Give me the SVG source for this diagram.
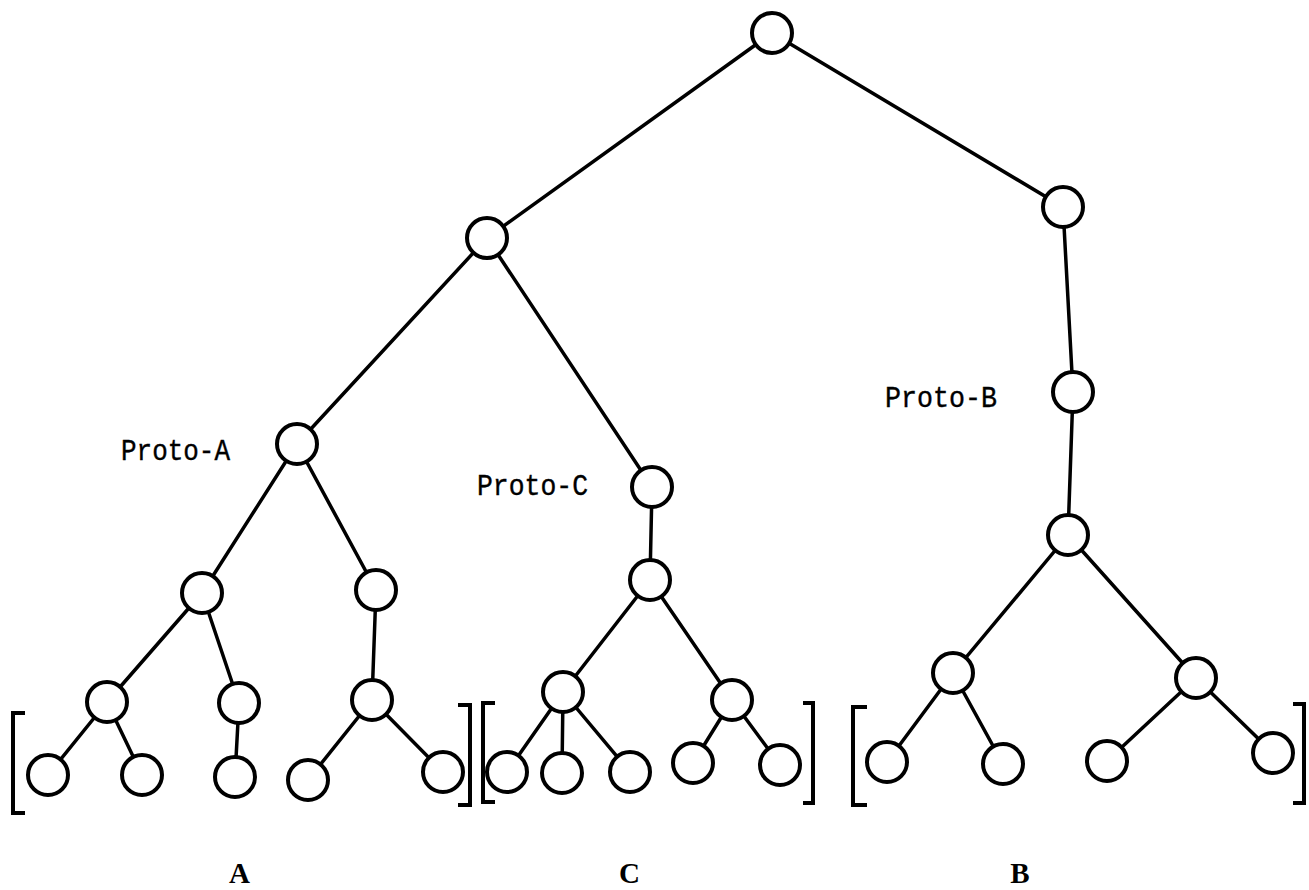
<svg xmlns="http://www.w3.org/2000/svg" width="1309" height="890" viewBox="0 0 1309 890">
  <style>
    .edge { stroke: #000; stroke-width: 3.5; stroke-linecap: round; fill: none; }
    .node circle { fill: #fff; stroke: #000; stroke-width: 4; }
    .bracket { stroke: #000; stroke-width: 4; fill: none; }
    .label { font-family: "Liberation Mono", "DejaVu Sans Mono", monospace; font-size: 30px; fill: #000; stroke: #000; stroke-width: 0.4; }
    .group { font-family: "Liberation Serif", serif; font-size: 29px; font-weight: bold; fill: #000; }
  </style>

  <!-- connectors -->
  <g id="connectors" class="edge">
    <line x1="772" y1="33" x2="487" y2="238"/>
    <line x1="772" y1="33" x2="1063" y2="207"/>
    <line x1="487" y1="238" x2="297" y2="444"/>
    <line x1="487" y1="238" x2="652" y2="487"/>
    <line x1="1063" y1="207" x2="1073" y2="392"/>
    <line x1="1073" y1="392" x2="1068" y2="535"/>
    <line x1="1068" y1="535" x2="953" y2="673"/>
    <line x1="1068" y1="535" x2="1196" y2="678"/>
    <line x1="953" y1="673" x2="887" y2="762"/>
    <line x1="953" y1="673" x2="1003" y2="764"/>
    <line x1="1196" y1="678" x2="1107" y2="761"/>
    <line x1="1196" y1="678" x2="1273" y2="753"/>
    <line x1="297" y1="444" x2="202" y2="593"/>
    <line x1="297" y1="444" x2="376" y2="590"/>
    <line x1="202" y1="593" x2="107" y2="702"/>
    <line x1="202" y1="593" x2="239" y2="703"/>
    <line x1="107" y1="702" x2="48" y2="775"/>
    <line x1="107" y1="702" x2="142" y2="775"/>
    <line x1="239" y1="703" x2="235" y2="777"/>
    <line x1="376" y1="590" x2="372" y2="700"/>
    <line x1="372" y1="700" x2="308" y2="780"/>
    <line x1="372" y1="700" x2="443" y2="772"/>
    <line x1="652" y1="487" x2="650" y2="580"/>
    <line x1="650" y1="580" x2="563" y2="692"/>
    <line x1="650" y1="580" x2="732" y2="700"/>
    <line x1="563" y1="692" x2="507" y2="772"/>
    <line x1="563" y1="692" x2="562" y2="773"/>
    <line x1="563" y1="692" x2="630" y2="772"/>
    <line x1="732" y1="700" x2="693" y2="763"/>
    <line x1="732" y1="700" x2="780" y2="765"/>
  </g>

  <!-- nodes -->
  <g id="n-root" class="node"><circle cx="772" cy="33" r="20"/></g>
  <g id="n-ac" class="node"><circle cx="487" cy="238" r="20"/></g>
  <g id="n-b-top" class="node"><circle cx="1063" cy="207" r="20"/></g>
  <g id="n-proto-a" class="node"><circle cx="297" cy="444" r="20"/></g>
  <g id="n-proto-c" class="node"><circle cx="652" cy="487" r="20"/></g>
  <g id="n-proto-b" class="node"><circle cx="1073" cy="392" r="20"/></g>
  <g id="n-b-mid" class="node"><circle cx="1068" cy="535" r="20"/></g>
  <g id="n-b1" class="node"><circle cx="953" cy="673" r="20"/></g>
  <g id="n-b2" class="node"><circle cx="1196" cy="678" r="20"/></g>
  <g id="n-b1a" class="node"><circle cx="887" cy="762" r="20"/></g>
  <g id="n-b1b" class="node"><circle cx="1003" cy="764" r="20"/></g>
  <g id="n-b2a" class="node"><circle cx="1107" cy="761" r="20"/></g>
  <g id="n-b2b" class="node"><circle cx="1273" cy="753" r="20"/></g>
  <g id="n-a1" class="node"><circle cx="202" cy="593" r="20"/></g>
  <g id="n-a2" class="node"><circle cx="376" cy="590" r="20"/></g>
  <g id="n-a11" class="node"><circle cx="107" cy="702" r="20"/></g>
  <g id="n-a12" class="node"><circle cx="239" cy="703" r="20"/></g>
  <g id="n-a111" class="node"><circle cx="48" cy="775" r="20"/></g>
  <g id="n-a112" class="node"><circle cx="142" cy="775" r="20"/></g>
  <g id="n-a121" class="node"><circle cx="235" cy="777" r="20"/></g>
  <g id="n-a21" class="node"><circle cx="372" cy="700" r="20"/></g>
  <g id="n-a211" class="node"><circle cx="308" cy="780" r="20"/></g>
  <g id="n-a212" class="node"><circle cx="443" cy="772" r="20"/></g>
  <g id="n-c1" class="node"><circle cx="650" cy="580" r="20"/></g>
  <g id="n-c11" class="node"><circle cx="563" cy="692" r="20"/></g>
  <g id="n-c12" class="node"><circle cx="732" cy="700" r="20"/></g>
  <g id="n-c111" class="node"><circle cx="507" cy="772" r="20"/></g>
  <g id="n-c112" class="node"><circle cx="562" cy="773" r="20"/></g>
  <g id="n-c113" class="node"><circle cx="630" cy="772" r="20"/></g>
  <g id="n-c121" class="node"><circle cx="693" cy="763" r="20"/></g>
  <g id="n-c122" class="node"><circle cx="780" cy="765" r="20"/></g>

  <!-- group brackets -->
  <g id="brackets" class="bracket">
    <polyline points="25,713 13,713 13,813 25,813"/>
    <polyline points="458,705 470,705 470,805 458,805"/>
    <polyline points="495,703 483,703 483,802 495,802"/>
    <polyline points="803,703 813,703 813,803 803,803"/>
    <polyline points="867,707 853,707 853,805 867,805"/>
    <polyline points="1293,704 1304,704 1304,803 1293,803"/>
  </g>

  <!-- labels -->
  <g id="labels">
    <text class="label" x="121" y="460" textLength="109" lengthAdjust="spacingAndGlyphs">Proto-A</text>
    <text class="label" x="477" y="495" textLength="111" lengthAdjust="spacingAndGlyphs">Proto-C</text>
    <text class="label" x="885" y="407" textLength="112" lengthAdjust="spacingAndGlyphs">Proto-B</text>
    <text class="group" x="239.5" y="883" text-anchor="middle">A</text>
    <text class="group" x="629.5" y="883" text-anchor="middle">C</text>
    <text class="group" x="1020" y="883" text-anchor="middle">B</text>
  </g>
</svg>
